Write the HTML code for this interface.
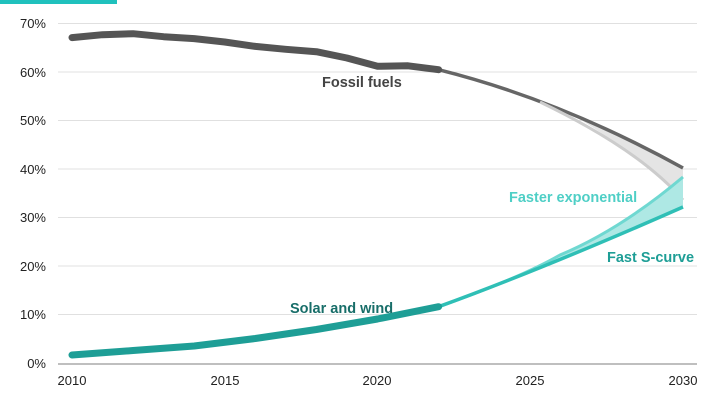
<!DOCTYPE html>
<html><head><style>
body{margin:0;background:#fff;}
svg{display:block;font-family:"Liberation Sans",Arial,sans-serif;}
</style></head><body>
<svg width="720" height="405" viewBox="0 0 720 405">
<rect x="0" y="0" width="117" height="4" fill="#1fc1bd"/>
<g stroke="#e0e0e0" stroke-width="1">
<line x1="58" x2="697" y1="23.5" y2="23.5"/>
<line x1="58" x2="697" y1="72" y2="72"/>
<line x1="58" x2="697" y1="120.5" y2="120.5"/>
<line x1="58" x2="697" y1="169" y2="169"/>
<line x1="58" x2="697" y1="217.5" y2="217.5"/>
<line x1="58" x2="697" y1="266" y2="266"/>
<line x1="58" x2="697" y1="314.5" y2="314.5"/>
</g>
<line x1="58" x2="697" y1="364" y2="364" stroke="#999" stroke-width="1.2"/>
<g font-size="13" fill="#222" text-anchor="end">
<text x="46" y="28">70%</text><text x="46" y="77">60%</text><text x="46" y="125">50%</text>
<text x="46" y="174">40%</text><text x="46" y="222">30%</text><text x="46" y="271">20%</text>
<text x="46" y="319">10%</text><text x="46" y="368">0%</text>
</g>
<g font-size="13" fill="#222" text-anchor="middle">
<text x="72" y="385">2010</text><text x="225" y="385">2015</text><text x="377" y="385">2020</text>
<text x="530" y="385">2025</text><text x="683" y="385">2030</text>
</g>
<path d="M438.6,69.7 Q560,100 683,168 L683,200 Q620,140 560,108 Q500,85 438.6,69.7Z" fill="#e4e4e4"/>
<path d="M438.6,69.7 Q560,100 683,168" fill="none" stroke="#666" stroke-width="3.5"/>
<path d="M540,102 Q640,150 683,200" fill="none" stroke="#ccc" stroke-width="3"/>
<path d="M438.6,306.7 Q540,270 683,207 L683,177 Q620,230 560,255 Q500,285 438.6,306.7Z" fill="#aee8e4"/>
<path d="M438.6,306.7 Q520,278 560,255 Q620,230 683,177" fill="none" stroke="#6fd8d1" stroke-width="3"/>
<path d="M438.6,306.7 Q540,270 683,207" fill="none" stroke="#2fbfb6" stroke-width="3.5"/>
<polyline points="72,37.6 102.5,34.7 133.1,33.7 163.6,36.7 194.2,38.6 224.7,42 255.3,46.4 285.8,49.3 316.4,51.7 346.9,58 377.5,66.3 408,65.8 438.6,69.7" fill="none" stroke="#555" stroke-width="7" stroke-linejoin="round" stroke-linecap="round"/>
<polyline points="72,355 133.1,350.5 194.2,346 255.3,338.5 316.4,329.5 377.5,319 438.6,306.7" fill="none" stroke="#1e9e96" stroke-width="7" stroke-linejoin="round" stroke-linecap="round"/>
<g font-size="14.5" font-weight="bold">
<text x="322" y="87" fill="#444">Fossil fuels</text>
<text x="290" y="313" fill="#186e69">Solar and wind</text>
<text x="509" y="202" fill="#4fcfc6">Faster exponential</text>
<text x="607" y="262" fill="#1e9e96">Fast S-curve</text>
</g>
</svg>
</body></html>
